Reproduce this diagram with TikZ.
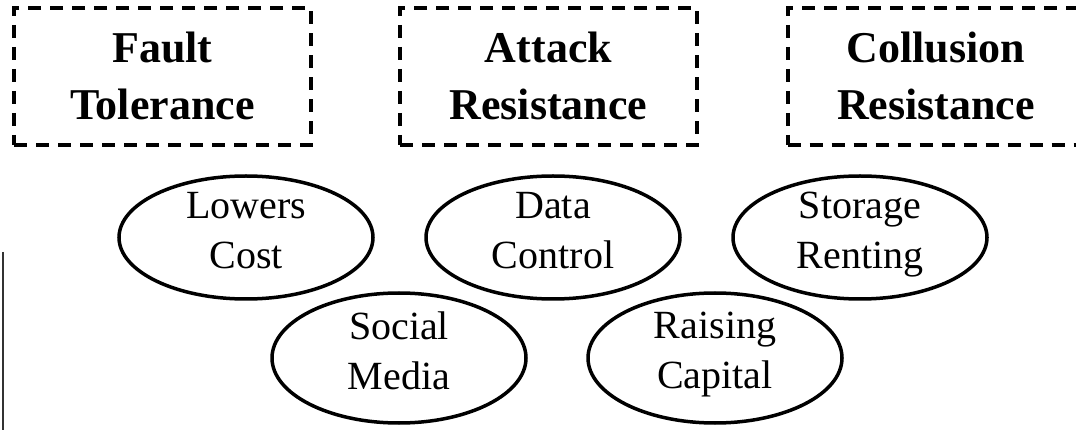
\documentclass[tikz,border=0pt]{standalone}
\usepackage{fontspec}
\setmainfont{Liberation Serif}
\usetikzlibrary{positioning,shapes.geometric}

\tikzset{
  goalbox/.style={draw,rectangle,line width=4pt,dash pattern=on 13pt off 9pt,
    minimum width=297pt,minimum height=137pt,inner sep=0pt,align=center,
    font=\fontsize{44}{57}\selectfont\bfseries,
    text height=90pt,text depth=3pt},
  usecase/.style={draw,ellipse,line width=3.5pt,inner sep=-20pt,
    minimum width=254pt,align=center,
    font=\fontsize{40}{50}\selectfont,
    execute at begin node=\strut,execute at end node=\strut}
}

\begin{document}
\begin{tikzpicture}[x=1pt,y=-1pt]
\useasboundingbox (0,0) rectangle (1076,430);
% Properties (top row, dashed)
\node[goalbox] (fault) at (162.5,76.5) {Fault\\Tolerance};
\node[goalbox] (attack) at (548.5,76.5) {Attack\\Resistance};
\node[goalbox] (collusion) at (936,76.5) {Collusion\\Resistance};
% Use cases, first row
\node[usecase,minimum height=123pt] (cost) at (246,237.5) {Lowers\\Cost};
\node[usecase,minimum height=123pt] (control) at (553,237.5) {Data\\Control};
\node[usecase,minimum height=123pt] (renting) at (860,237.5) {Storage\\Renting};
% Use cases, second row
\node[usecase,minimum height=130pt] (social) at (399,358) {Social\\Media};
\node[usecase,minimum height=130pt] (capital) at (715,358) {Raising\\Capital};
% Stray rule at the left edge
\draw[line width=1.5pt,black!80] (3,252) -- (3,430);
\end{tikzpicture}
\end{document}
